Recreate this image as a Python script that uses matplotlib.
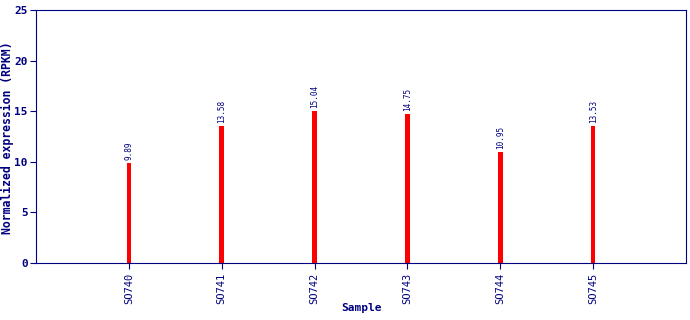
import matplotlib
matplotlib.use('Agg')
from matplotlib import pyplot as plt

SAMPLES = ['SO740', 'SO741', 'SO742', 'SO743', 'SO744', 'SO745']
VALUES = [9.89, 13.58, 15.04, 14.75, 10.95, 13.53]
LABELS = ['9.89', '13.58', '15.04', '14.75', '10.95', '13.53']

NAVY = '#000080'
plt.rcParams['font.family'] = 'DejaVu Sans Mono'

fig = plt.figure(figsize=(6.9, 3.2), dpi=100)
ax = fig.add_axes([36 / 690, 1 - 263 / 320, 650 / 690, 253 / 320])

xs = list(range(1, len(SAMPLES) + 1))
ax.bar(xs, VALUES, width=0.05, color='#ff0000')
for x, v, lab in zip(xs, VALUES, LABELS):
    ax.text(x, v + 0.3, lab, rotation=90, ha='center', va='bottom',
            fontsize=5.5, color=NAVY)

ax.set_xlim(0, 7)
ax.set_ylim(0, 25)
ax.set_xticks(xs)
ax.set_xticklabels(SAMPLES, rotation=90, fontsize=7.5, color=NAVY)
ax.set_yticks([0, 5, 10, 15, 20, 25])
ax.tick_params(axis='y', labelsize=8, colors=NAVY, length=4, pad=2)
ax.tick_params(axis='x', colors=NAVY, length=4, pad=3)
for lab in ax.get_yticklabels():
    lab.set_fontweight('bold')
for s in ax.spines.values():
    s.set_color(NAVY)
ax.set_xlabel('Sample', fontsize=8, fontweight='bold', color=NAVY)
ax.set_ylabel('Normalized expression (RPKM)', fontsize=8.3, fontweight='bold',
              color=NAVY)
# place axis titles where the reference has them
ax.xaxis.set_label_coords(0.5, -40 / 253)
ax.yaxis.set_label_coords(-22 / 650, (263 - 138) / 253)

fig.savefig('out.png', dpi=100)
